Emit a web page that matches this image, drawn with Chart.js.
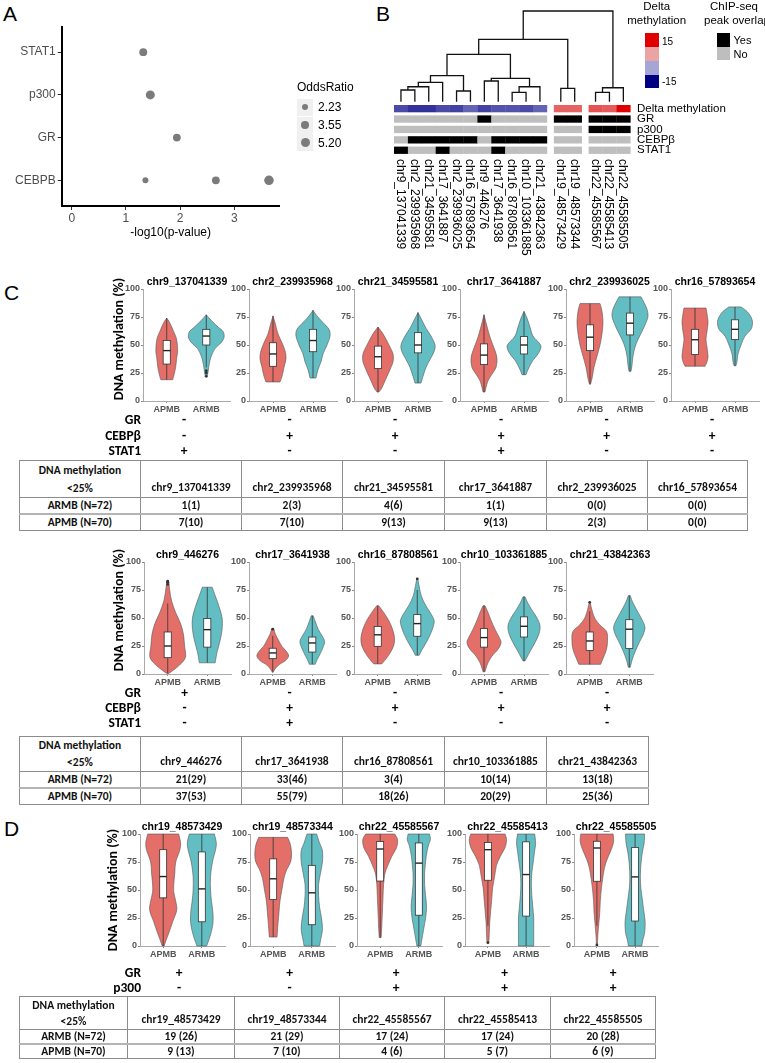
<!DOCTYPE html>
<html>
<head>
<meta charset="utf-8">
<script src="https://cdn.jsdelivr.net/npm/chart.js@4.4.1/dist/chart.umd.min.js"></script>
<style>
  body { margin: 0; background: #fff; }
  #page { position: relative; width: 765px; height: 1063px; overflow: hidden; font-family: Arial, "Liberation Sans", sans-serif; color: #000; }
  #page canvas, #page .t { position: absolute; }
  .t { white-space: nowrap; line-height: 1; }
  .cal { font-family: Carlito, Lato, sans-serif; font-weight: bold; }
  table.cnt { position: absolute; border-collapse: collapse; table-layout: fixed; font-family: Carlito, Lato, sans-serif; font-weight: bold; font-size: 11.5px; color: #111; }
  table.cnt td { border: 1px solid #8c8c8c; text-align: center; padding: 0; overflow: hidden; white-space: nowrap; line-height: 1; }
  table.cnt tr.armb td { border-bottom: 2px solid #b4b4b4; }
</style>
</head>
<body>
<div id="page"></div>
<script>
// ---------- data ----------
// A: enrichment of ChIP-seq peaks
const tfNames = ['CEBPB', 'GR', 'p300', 'STAT1'];
const enrichTF = ['STAT1', 'p300', 'GR', 'CEBPB', 'CEBPB', 'CEBPB'];
const enrichLogP = [1.32, 1.45, 1.94, 1.36, 2.66, 3.64];
const enrichOR = [4.1, 5.2, 4.0, 2.2, 4.0, 5.7];
const orBreaks = [2.23, 3.55, 5.20];
const logPTicks = [0, 1, 2, 3];

// B: clustered CpG sites
const leafSites = ['chr9_137041339', 'chr2_239935968', 'chr21_34595581', 'chr17_3641887', 'chr2_239936025',
  'chr16_57893654', 'chr9_446276', 'chr17_3641938', 'chr16_87808561', 'chr10_103361885', 'chr21_43842363',
  'chr19_48573429', 'chr19_48573344', 'chr22_45585567', 'chr22_45585413', 'chr22_45585505'];
const leafCluster = [0, 0, 0, 0, 0, 0, 0, 0, 0, 0, 0, 1, 1, 2, 2, 2];
const deltaMeth = [-10.5, -12, -12, -10.5, -11, -9, -11, -10, -10, -10.5, -9, 9, 9, 10, 9.5, 15];
const peakGR = [0, 0, 0, 0, 0, 0, 1, 0, 0, 0, 0, 1, 1, 1, 1, 1];
const peakP300 = [0, 0, 0, 0, 0, 0, 0, 0, 0, 0, 0, 0, 0, 1, 1, 1];
const peakCEBPB = [0, 1, 1, 1, 1, 1, 0, 1, 1, 1, 1, 0, 0, 0, 0, 0];
const peakSTAT1 = [1, 0, 0, 1, 0, 0, 0, 1, 0, 0, 0, 0, 0, 0, 0, 0];
const annotRows = ['Delta methylation', 'GR', 'p300', 'CEBP\u03b2', 'STAT1'];
// hclust-style merges: negative = leaf, positive = earlier merge, then height
const dendroMerges = [[-1, -2, 1.29], [1, -3, 1.65], [2, -4, 2.13], [-5, -6, 1.18], [3, 4, 2.87],
  [-7, -8, 2.28], [-9, -10, 1.03], [7, -11, 1.65], [6, 8, 2.57], [5, 9, 5.22], [-12, -13, 1.47],
  [10, 11, 6.88], [-14, -15, 1.03], [13, -16, 1.54], [12, 14, 10]];
const deltaLegend = [15, 5, -5, -15];

// C / D: methylation per group  [min, q1, median, q3, max]; violins as [value, density]
const groupNames = ['APMB', 'ARMB'];

const sitesC1 = ['chr9_137041339', 'chr2_239935968', 'chr21_34595581', 'chr17_3641887', 'chr2_239936025', 'chr16_57893654'];
const grC1 = ['-', '-', '-', '-', '-', '-'];
const cebpC1 = ['-', '+', '+', '+', '+', '+'];
const stat1C1 = ['+', '-', '-', '+', '-', '-'];
const boxC1apmb = [[19, 33, 45, 54, 74], [17, 31, 42, 52, 76], [8, 29, 39.5, 49, 66], [8, 32.5, 41, 51, 77], [15, 45, 57, 68, 87], [31, 41.5, 54.7, 64, 83]];
const boxC1armb = [[30, 50, 58, 64, 77], [20.5, 44, 54, 64, 81], [16, 43, 50, 61, 79], [23.5, 42, 50, 57.5, 80], [26.5, 59, 69.5, 78.5, 93], [31.5, 55, 64, 72.5, 84]];
const outC1apmb = [[], [], [], [], [], []];
const outC1armb = [[27, 25, 22], [], [], [], [], []];
const violC1apmb = [
  [[74, 0], [70, 3], [62, 7], [55, 10], [45, 11], [38, 10], [30, 9], [22, 7], [19, 6]],
  [[76, 0], [70, 2], [60, 5], [52, 9], [45, 12], [38, 13], [30, 11], [22, 9], [17, 7]],
  [[66, 0], [60, 5], [50, 11], [42, 15], [35, 15], [28, 12], [20, 8], [12, 4], [8, 1]],
  [[77, 0], [70, 2], [60, 5], [52, 8], [45, 11], [38, 13], [30, 12], [24, 8], [18, 4], [12, 2], [8, 1]],
  [[87, 10], [80, 12], [70, 13], [60, 12], [50, 10], [40, 7], [30, 4], [20, 2], [15, 0.5]],
  [[83, 11], [78, 12], [70, 13], [62, 12], [55, 11], [48, 12], [40, 13], [35, 12], [31, 10]]];
const violC1armb = [
  [[77, 0], [72, 5], [66, 12], [62, 17], [57, 18], [52, 15], [47, 9], [40, 5], [33, 3], [27, 2], [22, 1]],
  [[81, 0], [76, 4], [70, 10], [64, 16], [58, 17], [50, 14], [42, 10], [35, 8], [28, 5], [20.5, 3]],
  [[79, 0], [72, 4], [65, 8], [58, 13], [50, 17], [44, 16], [37, 12], [30, 8], [22, 5], [16, 3]],
  [[80, 0], [74, 3], [66, 6], [58, 9], [52, 15], [48, 17], [42, 14], [35, 8], [28, 4], [23.5, 2]],
  [[93, 11], [88, 14], [82, 17], [76, 18], [70, 16], [62, 12], [55, 8], [48, 5], [40, 3], [32, 2], [26.5, 1]],
  [[84, 6], [80, 12], [75, 16], [70, 17.5], [64, 16], [58, 10], [50, 6], [42, 3], [35, 2], [31.5, 1]]];
const lowC1armb = ['1(1)', '2(3)', '4(6)', '1(1)', '0(0)', '0(0)'];
const lowC1apmb = ['7(10)', '7(10)', '9(13)', '9(13)', '2(3)', '0(0)'];

const sitesC2 = ['chr9_446276', 'chr17_3641938', 'chr16_87808561', 'chr10_103361885', 'chr21_43842363'];
const grC2 = ['+', '-', '-', '-', '-'];
const cebpC2 = ['-', '+', '+', '+', '+'];
const stat1C2 = ['-', '+', '-', '-', '-'];
const boxC2apmb = [[0.5, 14.6, 25, 37.5, 63], [2, 13.7, 18.8, 23, 34], [9, 24.7, 35, 42.5, 61], [2, 24, 32.5, 40.5, 61], [8.6, 21, 29.5, 37.5, 56]];
const boxC2armb = [[10, 24, 39.6, 49.5, 77.5], [8.7, 19.6, 27.7, 33, 52], [16.7, 33.7, 45, 53, 75], [11.6, 33, 42.6, 51, 68.7], [6, 22.7, 40, 48.5, 70]];
const outC2apmb = [[80, 82, 83], [40], [], [], [64]];
const outC2armb = [[], [], [85], [], []];
const violC2apmb = [
  [[83, 1], [75, 2], [65, 4], [55, 8], [45, 13], [35, 16], [25, 17], [15, 18], [8, 12], [3, 5], [0.5, 1]],
  [[40.5, 1], [35, 3], [30, 6], [25, 9], [20, 14], [16, 16], [12, 13], [8, 6], [4, 2], [1.5, 0.5]],
  [[61, 1], [55, 6], [48, 11], [40, 15], [32, 17], [25, 16], [18, 12], [12, 7], [9, 4]],
  [[61, 1], [55, 4], [48, 7], [40, 11], [33, 15], [28, 17], [22, 14], [16, 8], [10, 4], [5, 2], [2, 1]],
  [[64, 0.5], [58, 2], [50, 5], [44, 10], [38, 17], [30, 18], [22, 17], [15, 14], [8.6, 11]]];
const violC2armb = [
  [[77.5, 5], [70, 8], [60, 12], [50, 15], [40, 15], [30, 13], [20, 10], [10, 8]],
  [[52, 1], [47, 3], [40, 6], [34, 10], [29, 12.5], [24, 11], [18, 8], [13, 5], [8.7, 3]],
  [[85, 0.5], [78, 2], [70, 4], [62, 8], [55, 13], [48, 17], [42, 16], [35, 13], [28, 9], [22, 5], [16.7, 2]],
  [[69, 1], [63, 4], [57, 8], [50, 13], [43, 16], [36, 15], [28, 11], [20, 6], [15, 3], [11.6, 1]],
  [[70, 1], [65, 3], [58, 7], [50, 12], [42, 15.8], [35, 14], [28, 10], [20, 6], [13, 3], [6, 1]]];
const lowC2armb = ['21(29)', '33(46)', '3(4)', '10(14)', '13(18)'];
const lowC2apmb = ['37(53)', '55(79)', '18(26)', '20(29)', '25(36)'];

const sitesD = ['chr19_48573429', 'chr19_48573344', 'chr22_45585567', 'chr22_45585413', 'chr22_45585505'];
const grD = ['+', '+', '+', '+', '+'];
const p300D = ['-', '-', '+', '+', '+'];
const boxDapmb = [[0, 43, 62, 86, 100], [8, 41.5, 60, 77.8, 97], [7.5, 58, 86.6, 93.3, 100], [18, 58.7, 86, 92.5, 100], [18, 57.8, 87.5, 93.5, 100]];
const boxDarmb = [[0, 21.6, 51, 84, 100], [0, 19, 47.5, 72, 100], [0, 27.5, 74, 92, 100], [0, 26.7, 63.8, 93, 100], [0, 22.3, 61.7, 88, 100]];
const outDapmb = [[], [], [], [3], [1]];
const outDarmb = [[], [], [], [], []];
const violDapmb = [
  [[100, 16], [92, 18], [85, 17], [75, 13], [65, 12], [55, 11], [48, 11], [40, 13], [32, 14], [22, 10], [12, 6], [5, 3], [0, 1]],
  [[97, 15], [90, 18], [82, 19], [75, 18], [68, 14], [60, 11], [50, 9], [40, 7], [30, 6], [20, 5], [8, 4]],
  [[100, 15], [95, 18], [88, 17], [80, 12], [72, 8], [65, 5], [55, 3.5], [45, 3], [35, 2.5], [25, 2], [15, 1.5], [7.5, 1]],
  [[100, 18], [95, 19.5], [88, 18], [80, 13], [72, 9], [62, 7], [52, 5], [42, 4], [32, 3], [22, 2], [12, 1.5], [3, 1]],
  [[100, 17], [93, 17.5], [86, 15], [78, 11], [70, 8], [60, 6], [50, 4.5], [40, 3.5], [30, 3], [20, 2], [10, 1], [1, 0.5]]];
const violDarmb = [
  [[100, 13], [92, 15], [85, 14], [75, 11], [62, 9], [50, 9], [40, 10], [30, 11.5], [20, 11.5], [10, 9], [0, 5]],
  [[100, 5], [92, 8], [85, 11], [75, 11], [65, 9], [55, 7], [45, 7], [35, 8], [25, 10], [15, 11], [5, 9], [0, 8]],
  [[100, 11], [95, 12], [90, 10], [82, 8], [75, 7], [65, 6], [55, 6], [45, 7], [35, 8], [25, 7], [15, 5], [5, 3], [0, 2]],
  [[100, 9], [92, 10], [85, 9], [75, 7.5], [65, 6], [55, 5.5], [45, 6], [35, 7], [25, 8], [15, 8], [5, 8], [0, 8]],
  [[100, 10], [92, 9.5], [83, 7.5], [72, 6], [62, 5.5], [52, 6], [42, 7.5], [32, 9], [22, 10.5], [12, 10], [5, 8], [0, 7]]];
const lowDarmb = ['19 (26)', '21 (29)', '17 (24)', '17 (24)', '20 (28)'];
const lowDapmb = ['9 (13)', '7 (10)', '4 (6)', '5 (7)', '6 (9)'];

// ---------- helpers ----------
Chart.defaults.font.family = 'Arial, "Liberation Sans", sans-serif';
Chart.defaults.animation = false;
Chart.defaults.responsive = false;
Chart.defaults.events = [];
Chart.defaults.plugins.legend.display = false;
Chart.defaults.plugins.tooltip.enabled = false;

const page = document.getElementById('page');
const groupColors = ['#e36f68', '#63bec3'];
const DENS = 0.45 / 18;   // density -> half width in category units
const BOX_HW = 0.09;

function addCanvas(left, top, w, h) {
  const c = document.createElement('canvas');
  c.width = w; c.height = h;
  c.style.left = left + 'px'; c.style.top = top + 'px';
  c.style.width = w + 'px'; c.style.height = h + 'px';
  page.appendChild(c);
  return c;
}

function addText(txt, x, y, css, anchor) {
  const d = document.createElement('div');
  d.className = 't';
  d.textContent = txt;
  Object.assign(d.style, css || {});
  d.style.left = x + 'px';
  d.style.top = y + 'px';
  const tx = anchor === 'c' ? '-50%' : anchor === 'r' ? '-100%' : '0';
  d.style.transform = 'translate(' + tx + ', -50%)' + (css && css.rot ? ' rotate(' + css.rot + ')' : '');
  page.appendChild(d);
  return d;
}

function addBox(x, y, w, h, color, extra) {
  const d = document.createElement('div');
  d.style.position = 'absolute';
  d.style.left = x + 'px'; d.style.top = y + 'px';
  d.style.width = w + 'px'; d.style.height = h + 'px';
  d.style.background = color;
  Object.assign(d.style, extra || {});
  page.appendChild(d);
  return d;
}

function curveThrough(ctx, p) {
  for (let i = 0; i < p.length - 1; i++) {
    const p0 = p[i - 1] || p[i], p1 = p[i], p2 = p[i + 1], p3 = p[i + 2] || p2;
    ctx.bezierCurveTo(p1[0] + (p2[0] - p0[0]) / 6, p1[1] + (p2[1] - p0[1]) / 6,
      p2[0] - (p3[0] - p1[0]) / 6, p2[1] - (p3[1] - p1[1]) / 6, p2[0], p2[1]);
  }
}

// ---------- panel letters ----------
addText('A', 3, 13, {fontSize: '21px'});
addText('B', 376, 13, {fontSize: '21px'});
addText('C', 4, 292, {fontSize: '21px'});
addText('D', 4, 828, {fontSize: '21px'});

// ---------- A ----------
const orRadius = v => 1.9 + 0.5 * v;
new Chart(addCanvas(0, 0, 330, 250), {
  type: 'scatter',
  data: {
    datasets: [{
      data: enrichLogP.map((p, i) => ({x: p, y: tfNames.indexOf(enrichTF[i]) + 1})),
      pointRadius: enrichOR.map(orRadius),
      backgroundColor: '#7b7b7b', borderWidth: 0
    }]
  },
  options: {
    layout: {padding: {top: 26.5, right: 51, bottom: 14, left: 0}},
    scales: {
      x: {
        type: 'linear', min: -0.185, max: 3.825,
        afterBuildTicks: s => { s.ticks = logPTicks.map(v => ({value: v})); },
        afterFit: s => { s.height = 30; },
        ticks: {font: {size: 12}, color: '#4d4d4d', padding: 1, maxRotation: 0},
        grid: {drawOnChartArea: false, tickLength: 4, color: '#333'},
        border: {color: '#000', width: 2}
      },
      y: {
        type: 'linear', min: 0.4, max: 4.6,
        afterBuildTicks: s => { s.ticks = tfNames.map((n, i) => ({value: i + 1})); },
        afterFit: s => { s.width = 61.7; },
        ticks: {font: {size: 12}, color: '#4d4d4d', padding: 2, callback: v => tfNames[v - 1]},
        grid: {drawOnChartArea: false, tickLength: 4, color: '#333'},
        border: {color: '#000', width: 2}
      }
    }
  }
});
addText('-log10(p-value)', 170.7, 232, {fontSize: '12px'}, 'c');
addText('OddsRatio', 297, 87, {fontSize: '12px'});
orBreaks.forEach((v, i) => {
  const cy = 107.3 + i * 17.7;
  addBox(297, cy - 8.5, 16, 17, '#f0f0f0');
  const r = orRadius(v);
  addBox(305 - r, cy - r, 2 * r, 2 * r, '#7b7b7b', {borderRadius: '50%'});
  addText(v.toFixed(2), 318, cy, {fontSize: '12px'});
});

// ---------- B ----------
const leafX = leafSites.map((s, i) => i + 0.5 + leafCluster[i] * 0.5);
const nodeX = [], nodeH = [];
const nodePos = ref => ref < 0 ? [leafX[-ref - 1], 0] : [nodeX[ref - 1], nodeH[ref - 1]];
const dendroSets = dendroMerges.map(([a, b, h], k) => {
  const [xa, ha] = nodePos(a), [xb, hb] = nodePos(b);
  nodeX[k] = (xa + xb) / 2; nodeH[k] = h;
  return {
    data: [{x: xa, y: ha}, {x: xa, y: h}, {x: xb, y: h}, {x: xb, y: hb}],
    showLine: true, borderColor: '#111', borderWidth: 1.3, pointRadius: 0, clip: false
  };
});
const deltaStops = [[-15, [0, 0, 128]], [-5, [166, 166, 214]], [5, [235, 163, 163]], [15, [224, 0, 0]]];
function deltaColor(v) {
  for (let i = 0; i < deltaStops.length - 1; i++) {
    const [v0, c0] = deltaStops[i], [v1, c1] = deltaStops[i + 1];
    if (v <= v1 || i === deltaStops.length - 2) {
      const t = Math.max(0, Math.min(1, (v - v0) / (v1 - v0)));
      return 'rgb(' + c0.map((c, j) => Math.round(c + (c1[j] - c) * t)).join(',') + ')';
    }
  }
}
const peakRows = [peakGR, peakP300, peakCEBPB, peakSTAT1];
const heatLayer = {
  id: 'heatLayer',
  afterDatasetsDraw(chart) {
    const {ctx, scales: {x, y}} = chart;
    const y0 = y.getPixelForValue(0);
    leafX.forEach((lx, i) => {
      const x0 = x.getPixelForValue(lx - 0.5), x1 = x.getPixelForValue(lx + 0.5);
      for (let r = 0; r < 5; r++) {
        ctx.fillStyle = r === 0 ? deltaColor(deltaMeth[i]) : (peakRows[r - 1][i] ? '#000' : '#bebebe');
        ctx.fillRect(x0, y0 + 3.3 + r * 10.4, x1 - x0 + 0.3, 7.3);
      }
    });
  }
};
new Chart(addCanvas(380, 0, 385, 260), {
  type: 'scatter',
  data: {datasets: dendroSets},
  options: {
    layout: {padding: {top: 11, right: 134.7, bottom: 158.3, left: 14}},
    scales: {
      x: {type: 'linear', display: false, min: 0, max: 17},
      y: {type: 'linear', display: false, min: 0, max: 10}
    }
  },
  plugins: [heatLayer]
});
annotRows.forEach((r, i) => addText(r, 637, 108.7 + i * 10.4, {fontSize: '11.5px'}));
leafSites.forEach((s, i) => {
  const d = addText(s, 394 + 13.9 * leafX[i], 159, {fontSize: '12px', writingMode: 'vertical-rl', lineHeight: '12px'}, 'c');
  d.style.transform = 'translate(-50%, 0)';
});
addText('Delta', 656.7, 7, {fontSize: '11.5px'}, 'c');
addText('methylation', 656.7, 21, {fontSize: '11.5px'}, 'c');
deltaLegend.forEach((v, i) => addBox(645, 33.3 + i * 13.75, 14.3, 13.75, deltaColor(v)));
addText('15', 662, 41.7, {fontSize: '10px'});
addText('-15', 662, 81.7, {fontSize: '10px'});
addText('ChIP-seq', 734, 7, {fontSize: '11.5px'}, 'c');
addText('peak overlap', 737, 21, {fontSize: '11.5px'}, 'c');
addBox(716.7, 33.3, 13.3, 13.4, '#000');
addBox(716.7, 46.7, 13.3, 13.4, '#bebebe');
addText('Yes', 733.5, 40, {fontSize: '11px'});
addText('No', 733.5, 53.5, {fontSize: '11px'});

// ---------- C / D violins ----------
function violinLayer(boxes, shapes) {
  return {
    id: 'violinLayer',
    beforeDatasetsDraw(chart) {
      const {ctx, scales: {x, y}} = chart;
      ctx.save();
      shapes.forEach((shape, g) => {
        const cat = g + 1;
        const right = shape.map(([v, d]) => [x.getPixelForValue(cat + d * DENS), y.getPixelForValue(v)]);
        const left = shape.map(([v, d]) => [x.getPixelForValue(cat - d * DENS), y.getPixelForValue(v)]).reverse();
        ctx.beginPath();
        ctx.moveTo(right[0][0], right[0][1]);
        curveThrough(ctx, right);
        ctx.lineTo(left[0][0], left[0][1]);
        curveThrough(ctx, left);
        ctx.closePath();
        ctx.fillStyle = groupColors[g];
        ctx.fill();
        ctx.lineWidth = 0.6; ctx.strokeStyle = '#555';
        ctx.stroke();
        const [lo, q1, med, q3, hi] = boxes[g];
        const cx = x.getPixelForValue(cat);
        ctx.beginPath();
        ctx.moveTo(cx, y.getPixelForValue(lo)); ctx.lineTo(cx, y.getPixelForValue(hi));
        ctx.lineWidth = 0.8; ctx.strokeStyle = '#333'; ctx.stroke();
        const bx0 = x.getPixelForValue(cat - BOX_HW), bx1 = x.getPixelForValue(cat + BOX_HW);
        const by0 = y.getPixelForValue(q3), by1 = y.getPixelForValue(q1);
        ctx.fillStyle = '#fff';
        ctx.fillRect(bx0, by0, bx1 - bx0, by1 - by0);
        ctx.strokeRect(bx0, by0, bx1 - bx0, by1 - by0);
        ctx.beginPath();
        ctx.moveTo(bx0, y.getPixelForValue(med)); ctx.lineTo(bx1, y.getPixelForValue(med));
        ctx.lineWidth = 1.4; ctx.strokeStyle = '#222'; ctx.stroke();
      });
      ctx.restore();
    }
  };
}

const PLOT_H = 112;
function violinPanel(axisX, y100, W, site, boxes, shapes, outs) {
  const padTop = 8, yW = 26, xH = 13;
  const cw = Math.ceil(yW + W + 3);
  const pts = [];
  outs.forEach((o, g) => o.forEach(v => pts.push({x: g + 1, y: v})));
  new Chart(addCanvas(axisX - yW, y100 - padTop, cw, padTop + PLOT_H + xH + 2), {
    type: 'scatter',
    data: {datasets: [{data: pts, pointRadius: 1.4, backgroundColor: '#333', borderWidth: 0}]},
    options: {
      layout: {padding: {top: padTop, right: cw - yW - W, bottom: 2, left: 0}},
      scales: {
        x: {
          type: 'linear', min: 0.4, max: 2.6,
          afterBuildTicks: s => { s.ticks = groupNames.map((n, i) => ({value: i + 1})); },
          afterFit: s => { s.height = xH; },
          ticks: {font: {size: 9, weight: 'bold'}, color: '#555', padding: 1, maxRotation: 0, callback: v => groupNames[v - 1]},
          grid: {drawOnChartArea: false, tickLength: 2, color: '#888'},
          border: {color: '#aaa', width: 1}
        },
        y: {
          type: 'linear', min: 0, max: 100,
          afterFit: s => { s.width = yW; },
          ticks: {stepSize: 25, font: {size: 9, weight: 'bold'}, color: '#555', padding: 1},
          grid: {drawOnChartArea: false, tickLength: 2, color: '#888'},
          border: {color: '#aaa', width: 1}
        }
      }
    },
    plugins: [violinLayer(boxes, shapes)]
  });
  addText(site, axisX + W / 2, y100 - 8, {fontSize: '10.5px', fontWeight: 'bold'}, 'c');
}

function violinRow(axes, y100, W, sites, bA, bR, sA, sR, oA, oR) {
  sites.forEach((s, i) => violinPanel(axes[i], y100, W, s, [bA[i], bR[i]], [sA[i], sR[i]], [oA[i], oR[i]]));
}

function annotRowsText(axes, W, rows) {
  rows.forEach(([label, y, vals]) => {
    addText(label, 141, y, {fontSize: '13.5px'}, 'r').classList.add('cal');
    vals.forEach((v, i) => addText(v, axes[i] + W / 2 - 3, y, {fontSize: '13.5px'}, 'c').classList.add('cal'));
  });
}

function addTable(left, top, widths, headH, rowH, sites, armb, apmb) {
  const t = document.createElement('table');
  t.className = 'cnt';
  t.style.left = left + 'px'; t.style.top = top + 'px';
  t.style.width = widths.reduce((a, b) => a + b, 0) + 'px';
  const cg = document.createElement('colgroup');
  widths.forEach(w => { const c = document.createElement('col'); c.style.width = w + 'px'; cg.appendChild(c); });
  t.appendChild(cg);
  const head = t.insertRow();
  const h0 = head.insertCell();
  h0.innerHTML = 'DNA methylation<br>&lt;25%';
  h0.style.lineHeight = (headH / 2) + 'px';
  h0.style.height = headH + 'px';
  sites.forEach(s => {
    const c = head.insertCell(); c.textContent = s;
    c.style.verticalAlign = 'bottom'; c.style.paddingBottom = '4px';
  });
  [['ARMB (N=72)', armb, 'armb'], ['APMB (N=70)', apmb, 'apmb']].forEach(([lab, vals, cls]) => {
    const r = t.insertRow(); r.className = cls;
    const c0 = r.insertCell(); c0.textContent = lab; c0.style.height = rowH + 'px';
    vals.forEach(v => { r.insertCell().textContent = v; });
  });
  page.appendChild(t);
}

const axesC1 = [143, 248.5, 354, 460, 565.5, 671];
violinRow(axesC1, 289.3, 88, sitesC1, boxC1apmb, boxC1armb, violC1apmb, violC1armb, outC1apmb, outC1armb);
addText('DNA methylation (%)', 119.3, 339, {fontSize: '14px', rot: '-90deg'}, 'c').classList.add('cal');
annotRowsText(axesC1, 88, [['GR', 420, grC1], ['CEBP\u03b2', 436, cebpC1], ['STAT1', 451, stat1C1]]);
addTable(19, 460, [121, 101, 101, 102, 102, 101, 100], 36, 15, sitesC1, lowC1armb, lowC1apmb);

const axesC2 = [143.5, 248.5, 354, 460, 566];
violinRow(axesC2, 561.7, 88, sitesC2, boxC2apmb, boxC2armb, violC2apmb, violC2armb, outC2apmb, outC2armb);
addText('DNA methylation (%)', 119.3, 610, {fontSize: '14px', rot: '-90deg'}, 'c').classList.add('cal');
annotRowsText(axesC2, 88, [['GR', 693, grC2], ['CEBP\u03b2', 708, cebpC2], ['STAT1', 723, stat1C2]]);
addTable(19, 736, [121, 101, 101, 102, 102, 102], 34, 15, sitesC2, lowC2armb, lowC2apmb);

const axesD = [139.5, 250, 356.5, 465, 573.5];
violinRow(axesD, 834.3, 85, sitesD, boxDapmb, boxDarmb, violDapmb, violDarmb, outDapmb, outDarmb);
addText('DNA methylation (%)', 113.3, 890, {fontSize: '14px', rot: '-90deg'}, 'c').classList.add('cal');
annotRowsText(axesD, 85, [['GR', 972.7, grD], ['p300', 988, p300D]]);
addTable(19, 996, [108, 107, 105, 105, 106, 105], 32, 13, sitesD, lowDarmb, lowDapmb);
</script>
</body>
</html>
